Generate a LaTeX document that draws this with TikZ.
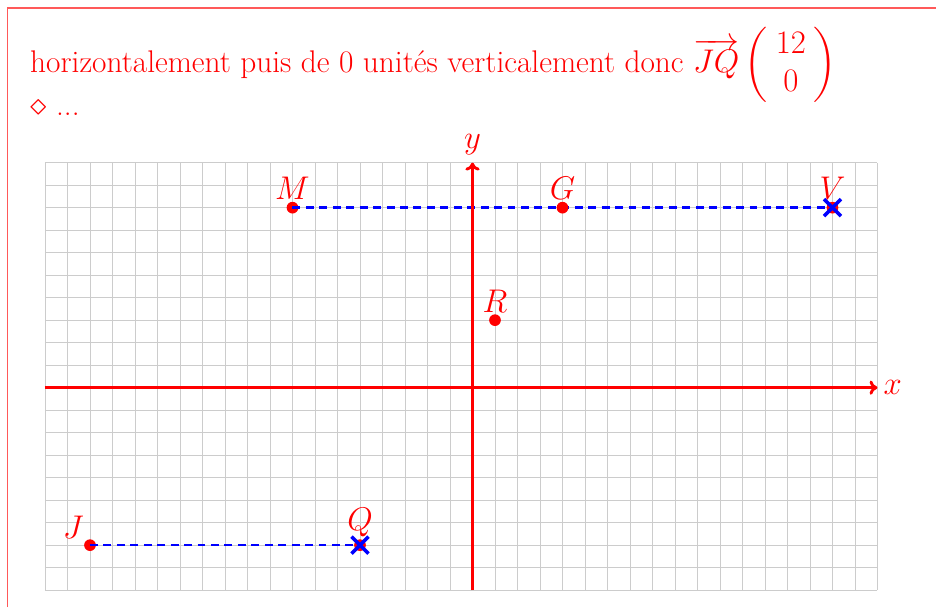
\documentclass[tikz,border=0pt]{standalone}
\usepackage{amsmath}
\usepackage{amssymb}
\usepackage{xcolor}
\usepackage{tikz}
\usetikzlibrary{arrows.meta,shapes.misc,positioning}

\begin{document}
\begin{tikzpicture}[
    x=0.5cm, y=0.5cm,
    frameline/.style={red!65, line width=0.9pt},
    gridline/.style={gray!40, line width=0.6pt},
    axis/.style={red, line width=1.8pt, -{To[length=5pt,width=9pt]}},
    pt/.style={circle, fill=red, inner sep=0pt, minimum size=0.26cm},
    lab/.style={text=red, inner sep=1pt, font=\fontsize{20}{24}\selectfont},
    vec/.style={blue, line width=1.6pt, dash pattern=on 5pt off 3.5pt},
    crossmark/.style={cross out, draw=blue, line width=2.2pt,
                      inner sep=0pt, minimum size=0.3cm},
    txt/.style={text=red, anchor=base west, inner sep=0pt,
                font=\fontsize{19.8}{24}\selectfont},
  ]
    \useasboundingbox (-21,-9.75) rectangle (20.6,17.23);
    % ---- frame ----
    \draw[frameline] (-20.67,-9.75) |- (20.6,16.88);

    % ---- text ----
    \node[txt] (T1) at (-19.67,14) {horizontalement puis de 0 unités verticalement donc
      $\overrightarrow{JQ}\left(\begin{array}{c}12\\0\end{array}\right)$};
    \node[txt] (T2) at (-19.67,12.08) {$\diamond$ ...};

    % ---- grid and axes ----
    \draw[gridline, step=0.5cm] (-19,-9) grid (18,10);
    \coordinate (xs) at (-19,0); \coordinate (xe) at (18,0);
    \coordinate (ys) at (0,-9);  \coordinate (ye) at (0,10);

    % ---- points ----
    \node[pt, label={[lab]above:$M$}]      (M) at (-8,8) {};
    \node[pt, label={[lab]above left:$J$}] (J) at (-17,-7) {};

    % ---- vectors ----
    \draw[vec] (M.center) -- (16,8) coordinate (Vc);
    \draw[vec] (J.center) -- (-5,-7) coordinate (Qc);

    \draw[axis] (xs) -- (xe) node[right, lab, inner sep=3pt] (X) {$x$};
    \draw[axis] (ys) -- (ye) node[above, lab, inner sep=4pt] (Y) {$y$};

    \node[pt, label={[lab]above:$G$}] (G) at (4,8) {};
    \node[pt, label={[lab]above:$R$}] (R) at (1,3) {};
    \node[pt, label={[lab]above:$V$}] (V) at (Vc) {};
    \node[pt, label={[lab]above:$Q$}] (Q) at (Qc) {};

    % ---- end marks ----
    \node[crossmark] (VX) at (V) {};
    \node[crossmark] (QX) at (Q) {};
\end{tikzpicture}
\end{document}
